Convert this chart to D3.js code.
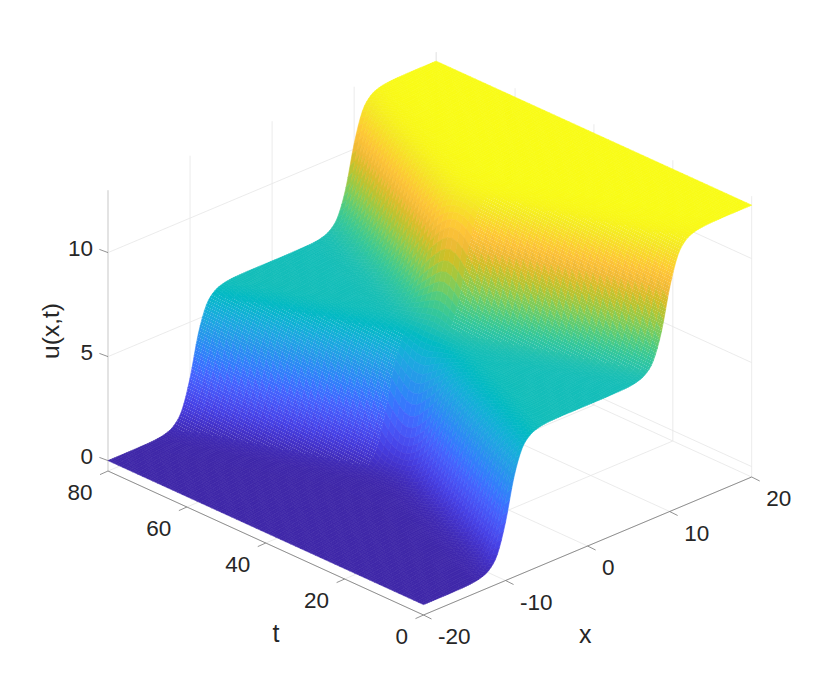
<!DOCTYPE html>
<html>
<head>
<meta charset="utf-8">
<script src="https://cdn.jsdelivr.net/npm/d3@7"></script>
<style>
  html, body { margin: 0; background: #fff; }
  text { font-family: "Liberation Sans", Arial, sans-serif; fill: #262626; }
</style>
</head>
<body>
<div id="chart"></div>
<script>
const xGrid = d3.range(-20, 21);
const tGrid = [0, 5, 10, 15, 20, 25, 30, 35, 40, 45, 50, 55, 60, 65, 70, 75, 80];

// u(x,t), one row per t, one column per x
const uValues = [
  [0,0,0,0,.01,.02,.05,.13,.34,.92,2.31,4.26,5.50,6.00,6.18,6.25,6.27,6.28,6.28,6.28,6.28,6.28,6.28,6.29,6.30,6.32,6.39,6.57,7.07,8.31,10.26,11.65,12.23,12.44,12.52,12.55,12.56,12.57,12.57,12.57,12.57],
  [0,0,0,0,0,.01,.02,.05,.13,.34,.92,2.31,4.26,5.50,6.00,6.18,6.25,6.27,6.28,6.28,6.28,6.28,6.29,6.30,6.32,6.39,6.57,7.07,8.31,10.26,11.65,12.23,12.44,12.52,12.55,12.56,12.57,12.57,12.57,12.57,12.57],
  [0,0,0,0,0,0,.01,.02,.05,.13,.34,.92,2.31,4.26,5.50,6.00,6.18,6.25,6.27,6.28,6.28,6.29,6.30,6.32,6.39,6.57,7.07,8.31,10.26,11.65,12.23,12.44,12.52,12.55,12.56,12.57,12.57,12.57,12.57,12.57,12.57],
  [0,0,0,0,0,0,0,.01,.02,.05,.13,.34,.92,2.31,4.26,5.50,6.00,6.18,6.25,6.28,6.28,6.29,6.32,6.39,6.57,7.07,8.31,10.26,11.65,12.23,12.44,12.52,12.55,12.56,12.57,12.57,12.57,12.57,12.57,12.57,12.57],
  [0,0,0,0,0,0,0,0,.01,.02,.05,.13,.34,.92,2.31,4.26,5.50,6.00,6.18,6.25,6.28,6.32,6.39,6.57,7.07,8.31,10.26,11.65,12.23,12.44,12.52,12.55,12.56,12.57,12.57,12.57,12.57,12.57,12.57,12.57,12.57],
  [0,0,0,0,0,0,0,0,0,.01,.02,.05,.13,.34,.92,2.31,4.26,5.50,6.00,6.19,6.28,6.37,6.57,7.07,8.31,10.26,11.65,12.23,12.44,12.52,12.55,12.56,12.57,12.57,12.57,12.57,12.57,12.57,12.57,12.57,12.57],
  [0,0,0,0,0,0,0,0,0,0,.01,.02,.05,.13,.35,.94,2.34,4.29,5.52,6.04,6.28,6.53,7.05,8.28,10.23,11.63,12.22,12.44,12.52,12.55,12.56,12.57,12.57,12.57,12.57,12.57,12.57,12.57,12.57,12.57,12.57],
  [0,0,0,0,0,0,0,0,0,0,0,.01,.02,.05,.14,.38,1.04,2.54,4.49,5.68,6.28,6.89,8.08,10.03,11.53,12.19,12.43,12.52,12.55,12.56,12.57,12.57,12.57,12.57,12.57,12.57,12.57,12.57,12.57,12.57,12.57],
  [0,0,0,0,0,0,0,0,0,0,0,.01,.01,.04,.09,.25,.67,1.76,3.70,5.34,6.28,7.23,8.87,10.81,11.90,12.32,12.48,12.53,12.56,12.56,12.57,12.57,12.57,12.57,12.57,12.57,12.57,12.57,12.57,12.57,12.57],
  [0,0,0,0,0,0,0,0,0,0,0,.01,.02,.05,.14,.38,1.04,2.54,4.49,5.68,6.28,6.89,8.08,10.03,11.53,12.19,12.43,12.52,12.55,12.56,12.57,12.57,12.57,12.57,12.57,12.57,12.57,12.57,12.57,12.57,12.57],
  [0,0,0,0,0,0,0,0,0,0,.01,.02,.05,.13,.35,.94,2.34,4.29,5.52,6.04,6.28,6.53,7.05,8.28,10.23,11.63,12.22,12.44,12.52,12.55,12.56,12.57,12.57,12.57,12.57,12.57,12.57,12.57,12.57,12.57,12.57],
  [0,0,0,0,0,0,0,0,0,.01,.02,.05,.13,.34,.92,2.31,4.26,5.50,6.00,6.19,6.28,6.37,6.57,7.07,8.31,10.26,11.65,12.23,12.44,12.52,12.55,12.56,12.57,12.57,12.57,12.57,12.57,12.57,12.57,12.57,12.57],
  [0,0,0,0,0,0,0,0,.01,.02,.05,.13,.34,.92,2.31,4.26,5.50,6.00,6.18,6.25,6.28,6.32,6.39,6.57,7.07,8.31,10.26,11.65,12.23,12.44,12.52,12.55,12.56,12.57,12.57,12.57,12.57,12.57,12.57,12.57,12.57],
  [0,0,0,0,0,0,0,.01,.02,.05,.13,.34,.92,2.31,4.26,5.50,6.00,6.18,6.25,6.28,6.28,6.29,6.32,6.39,6.57,7.07,8.31,10.26,11.65,12.23,12.44,12.52,12.55,12.56,12.57,12.57,12.57,12.57,12.57,12.57,12.57],
  [0,0,0,0,0,0,.01,.02,.05,.13,.34,.92,2.31,4.26,5.50,6.00,6.18,6.25,6.27,6.28,6.28,6.29,6.30,6.32,6.39,6.57,7.07,8.31,10.26,11.65,12.23,12.44,12.52,12.55,12.56,12.57,12.57,12.57,12.57,12.57,12.57],
  [0,0,0,0,0,.01,.02,.05,.13,.34,.92,2.31,4.26,5.50,6.00,6.18,6.25,6.27,6.28,6.28,6.28,6.28,6.29,6.30,6.32,6.39,6.57,7.07,8.31,10.26,11.65,12.23,12.44,12.52,12.55,12.56,12.57,12.57,12.57,12.57,12.57],
  [0,0,0,0,.01,.02,.05,.13,.34,.92,2.31,4.26,5.50,6.00,6.18,6.25,6.27,6.28,6.28,6.28,6.28,6.28,6.28,6.29,6.30,6.32,6.39,6.57,7.07,8.31,10.26,11.65,12.23,12.44,12.52,12.55,12.56,12.57,12.57,12.57,12.57]
];

const xTicks = [-20, -10, 0, 10, 20];
const tTicks = [0, 20, 40, 60, 80];
const uTicks = [0, 5, 10];

const parula = ["#3e26a8", "#4332cb", "#4741e5", "#4852f4", "#4563fd", "#3875fe", "#2e87f7", "#2796eb", "#20a5e3", "#12b1d6", "#02bac3",
  "#24c1ae", "#37c897", "#57cc7a", "#81cc59", "#abc739", "#d1bf27", "#f0ba36", "#fec338", "#fad62d", "#f5e924", "#f9fb15"];

const width = 830, height = 692;

// linear axes of the 3d box, each one gives screen offset from the near bottom corner
const origin = [423.5, 615];
const xToH = d3.scaleLinear().domain([-20, 20]).range([0, 328.2]);
const xToV = d3.scaleLinear().domain([-20, 20]).range([0, -138]);
const tToH = d3.scaleLinear().domain([0, 80]).range([0, -315.5]);
const tToV = d3.scaleLinear().domain([0, 80]).range([0, -144]);
const uToV = d3.scaleLinear().domain([-0.5, 13]).range([0, -280.8]);
const color = d3.scaleLinear()
  .domain(d3.range(parula.length).map(i => i / (parula.length - 1) * 12.57))
  .range(parula)
  .clamp(true);

function project(x, t, u) {
  return [origin[0] + xToH(x) + tToH(t), origin[1] + xToV(x) + tToV(t) + uToV(u)];
}

const svg = d3.select("#chart").append("svg")
  .attr("width", width)
  .attr("height", height)
  .style("display", "block");

// lighter pixels on a skewed lattice, 7px tile
const pat = svg.append("defs").append("pattern")
  .attr("id", "speckle")
  .attr("patternUnits", "userSpaceOnUse")
  .attr("width", 7).attr("height", 7);
pat.selectAll("rect")
  .data(d3.range(7))
  .join("rect")
  .attr("x", d => d * 2 % 7)
  .attr("y", d => d)
  .attr("width", 1).attr("height", 1)
  .attr("fill", "#fff").attr("fill-opacity", 0.22)
  .attr("shape-rendering", "crispEdges");

// box lines behind the surface
const zMin = -0.5, zMax = 13;
const gridLines = [];
for (const x of xTicks) {
  gridLines.push([[x, 0, zMin], [x, 80, zMin]]);
  gridLines.push([[x, 80, zMin], [x, 80, zMax]]);
}
for (const t of tTicks) {
  gridLines.push([[-20, t, zMin], [20, t, zMin]]);
  gridLines.push([[20, t, zMin], [20, t, zMax]]);
}
for (const u of uTicks) {
  gridLines.push([[-20, 80, u], [20, 80, u]]);
  gridLines.push([[20, 80, u], [20, 0, u]]);
}
const line = d3.line();
svg.append("g").selectAll("path")
  .data(gridLines)
  .join("path")
  .attr("d", d => line(d.map(p => project(...p))))
  .attr("fill", "none")
  .attr("stroke", "#e6e6e6")
  .attr("stroke-width", 0.8);

// z axis
svg.append("path")
  .attr("d", line([project(-20, 80, zMin), project(-20, 80, zMax)]))
  .attr("stroke", "#dcdcdc")
  .attr("stroke-width", 1.4);

// x and t axes
const axisG = svg.append("g").attr("stroke", "#777").attr("stroke-width", 0.8).attr("fill", "none");
axisG.append("path").attr("d", line([project(-20, 0, zMin), project(20, 0, zMin)]));
axisG.append("path").attr("d", line([project(-20, 0, zMin), project(-20, 80, zMin)]));
for (const x of xTicks) {
  const p = project(x, 0, zMin);
  axisG.append("path").attr("d", line([p, [p[0] + 8, p[1] + 4]]));
}
for (const t of tTicks) {
  const p = project(-20, t, zMin);
  axisG.append("path").attr("d", line([p, [p[0] - 8, p[1] + 3.6]]));
}
for (const u of uTicks) {
  const p = project(-20, 80, u);
  axisG.append("path").attr("d", line([p, [p[0] - 8.6, p[1] - 3.2]]));
}

// catmull-rom through the table, only so the drawn mesh is finer than the table
function cr(a, b, c, d, f) {
  return 0.5 * (2 * b + (c - a) * f + (2 * a - 5 * b + 4 * c - d) * f * f + (3 * b - a - 3 * c + d) * f * f * f);
}
function at(arr, i) {
  return arr[Math.max(0, Math.min(arr.length - 1, i))];
}
const sub = 4;
function fineRow(row) {
  const out = [];
  for (let i = 0; i < row.length - 1; i++) {
    for (let k = 0; k < sub; k++) out.push(cr(at(row, i - 1), row[i], row[i + 1], at(row, i + 2), k / sub));
  }
  out.push(row[row.length - 1]);
  return out;
}
const fineX = xGrid.slice(0, -1).flatMap(x => d3.range(sub).map(k => x + k / sub)).concat([20]);
const fineT = tGrid.slice(0, -1).flatMap((t, i) => d3.range(sub).map(k => t + k / sub * (tGrid[i + 1] - t))).concat([80]);
const rowsX = uValues.map(fineRow);
const fineU = [];
for (let j = 0; j < rowsX.length - 1; j++) {
  for (let k = 0; k < sub; k++) {
    fineU.push(rowsX[j].map((_, c) => cr(at(rowsX, j - 1)[c], rowsX[j][c], rowsX[j + 1][c], at(rowsX, j + 2)[c], k / sub)));
  }
}
fineU.push(rowsX[rowsX.length - 1]);

// far cells first
const cells = [];
for (let j = fineT.length - 2; j >= 0; j--) {
  for (let i = fineX.length - 2; i >= 0; i--) {
    const c = [[i, j], [i + 1, j], [i + 1, j + 1], [i, j + 1]].map(([a, b]) => [fineX[a], fineT[b], Math.max(0, Math.min(12.57, fineU[b][a]))]);
    cells.push({ pts: c, u: d3.mean(c, p => p[2]), x: fineX[i], t: fineT[j] });
  }
}

const surf = svg.append("g");
surf.selectAll("path")
  .data(cells)
  .join("path")
  .attr("d", d => line(d.pts.map(p => project(...p))) + "Z")
  .attr("fill", d => color(d.u))
  .attr("stroke", d => color(d.u))
  .attr("stroke-width", 0.6)
  .attr("stroke-linejoin", "round");

// the dotted look of the dense mesh on two of the flanks
const dotted = cells.filter(d =>
  (d.t >= 45 && d.x < 0 && d.u > 0.3 && d.u < 5.9) ||
  (d.t < 36 && d.x > 0 && d.u > 6.7 && d.u < 12.3));
svg.append("path")
  .attr("d", dotted.map(d => line(d.pts.map(p => project(...p))) + "Z").join(""))
  .attr("fill", "url(#speckle)")
  .attr("stroke", "none");

// tick labels
const labels = svg.append("g").attr("font-size", 22.5);
labels.selectAll(".xl").data(xTicks).join("text")
  .attr("class", "xl")
  .attr("x", d => project(d, 0, zMin)[0] + 14.5)
  .attr("y", d => project(d, 0, zMin)[1] + 29)
  .text(d => d);
labels.selectAll(".tl").data(tTicks).join("text")
  .attr("class", "tl")
  .attr("text-anchor", "end")
  .attr("x", d => project(-20, d, zMin)[0] - 15.5)
  .attr("y", d => project(-20, d, zMin)[1] + 29)
  .text(d => d);
labels.selectAll(".ul").data(uTicks).join("text")
  .attr("class", "ul")
  .attr("text-anchor", "end")
  .attr("x", 93)
  .attr("y", d => project(-20, 80, d)[1] + 3)
  .text(d => d);

svg.append("text").attr("font-size", 25).attr("x", 579).attr("y", 643).text("x");
svg.append("text").attr("font-size", 25).attr("x", 272.5).attr("y", 642).text("t");
svg.append("text").attr("font-size", 24.5).attr("text-anchor", "middle")
  .attr("transform", "translate(59,331) rotate(-90)")
  .text("u(x,t)");
</script>
</body>
</html>
